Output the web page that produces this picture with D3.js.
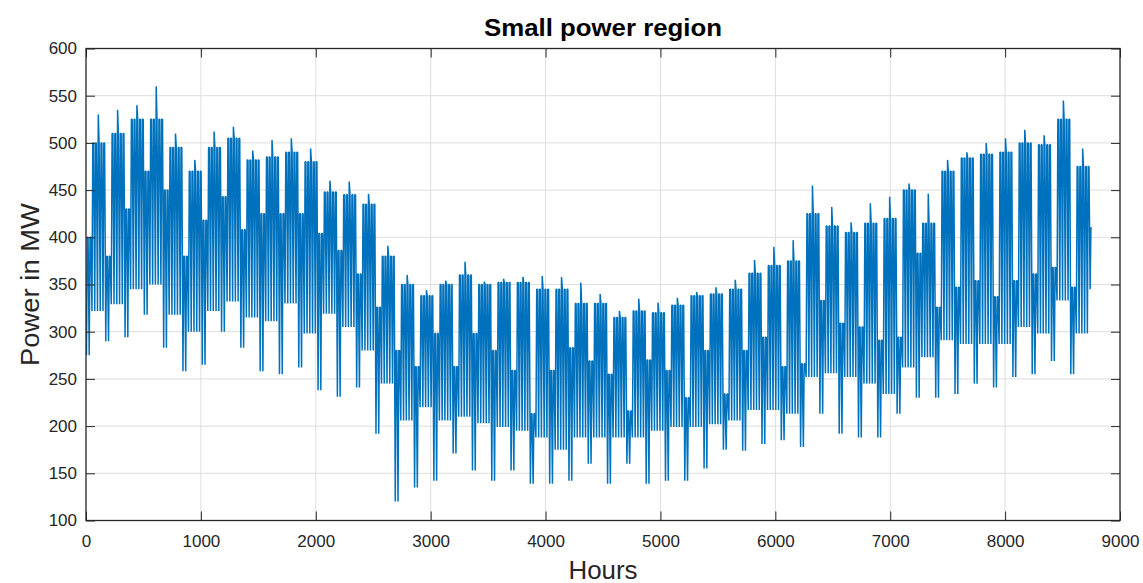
<!DOCTYPE html>
<html><head><meta charset="utf-8">
<script src="https://cdn.jsdelivr.net/npm/d3@7"></script>
<style>
body{margin:0;background:#fff}
text{font-family:"Liberation Sans",Arial,Helvetica,sans-serif}
</style>
</head><body><svg id="c" width="1143" height="583"></svg>
<script>
const title = "Small power region";
const xLabel = "Hours";
const yLabel = "Power in MW";
const xTicks = [0,1000,2000,3000,4000,5000,6000,7000,8000,9000];
const yTicks = [100,150,200,250,300,350,400,450,500,550,600];
const hoursInYear = 8760;

// Weekly envelope (MW). Week k: weekend days 7k,7k+1, weekdays 7k+2..7k+6
const weekdayHigh = [500,510,525,525,495,470,495,505,482,485,
  490,480,448,445,435,380,350,338,350,360,
  350,352,352,345,345,330,330,315,322,320,
  328,338,340,345,362,370,375,425,412,405,
  415,420,450,415,470,484,488,490,500,498,
  525,475];
const weekdayPeak = [530,535,540,560,510,482,512,517,492,503,
  505,494,460,459,446,391,360,344,354,374,
  353,356,358,359,358,352,340,322,335,331,
  336,342,347,355,376,390,397,455,432,416,
  436,443,457,446,482,490,500,505,514,508,
  545,494];
const weekdayLow = [322,329,345,350,318,300,322,332,315,311,
  330,298,319,305,280,245,206,220,206,210,
  203,199,195,188,175,188,188,188,188,195,
  199,199,202,206,217,217,213,252,256,252,
  245,234,262,273,291,287,287,287,305,298,
  333,298];
const weekendHigh = [400,380,430,470,450,380,418,443,408,425,
  425,425,404,386,361,326,280,263,298,263,
  298,280,259,213,259,283,269,255,216,270,
  259,230,280,234,280,294,263,266,333,309,
  305,291,294,383,326,347,354,337,354,361,
  368,347,410];
const weekendLow = [275,290,294,318,283,258,265,300,283,258,
  255,262,238,231,241,192,120,135,142,171,
  153,142,153,139,139,142,160,139,160,139,
  142,142,155,175,174,181,185,178,213,192,
  188,188,213,230,230,234,245,241,252,255,
  269,255,345];

// Build the day-by-day series (night trough, midday and evening level) from the weekly arrays
const series = [];
for (let d = 0; d * 24 < hoursInYear; d++) {
  const k = Math.floor(d / 7), r = d % 7;
  let lo, hi, ev;
  if (r < 2) { lo = weekendLow[k]; hi = weekendHigh[k]; ev = weekendHigh[k]; }
  else {
    lo = weekdayLow[k];
    hi = (r === 4) ? weekdayPeak[k] : weekdayHigh[k];
    ev = weekdayHigh[k];
  }
  series.push({h: d * 24 + 4, v: lo});
  series.push({h: d * 24 + 11, v: hi});
  series.push({h: d * 24 + 18, v: ev});
}

const W = 1143, H = 583;
const m = {left: 86, right: 1120, top: 48.5, bottom: 520.5};
const svg = d3.select("#c");
const x = d3.scaleLinear().domain([0, 9000]).range([m.left, m.right]);
const y = d3.scaleLinear().domain([100, 600]).range([m.bottom, m.top]);
const axisColor = "#262626";

svg.append("rect").attr("width", W).attr("height", H).attr("fill", "#fff");

// grid
const grid = svg.append("g").attr("stroke", "#dedede").attr("stroke-width", 1);
grid.selectAll(".gx").data(xTicks.slice(1, -1)).join("line")
  .attr("x1", d => x(d)).attr("x2", d => x(d)).attr("y1", m.top).attr("y2", m.bottom);
grid.selectAll(".gy").data(yTicks.slice(1, -1)).join("line")
  .attr("x1", m.left).attr("x2", m.right).attr("y1", d => y(d)).attr("y2", d => y(d));

// data line
svg.append("clipPath").attr("id", "clip").append("rect")
  .attr("x", m.left).attr("y", m.top).attr("width", m.right - m.left).attr("height", m.bottom - m.top);
svg.append("path").datum(series)
  .attr("clip-path", "url(#clip)")
  .attr("fill", "none").attr("stroke", "#0072BD").attr("stroke-width", 1.5)
  .attr("stroke-linejoin", "miter").attr("stroke-miterlimit", 1)
  .attr("d", d3.line().x(d => x(d.h)).y(d => y(d.v)));

// axes
const fmt = d3.format("d");
function styleAxis(g) {
  g.select(".domain").remove();
  g.selectAll("line").attr("stroke", axisColor).attr("stroke-width", 1);
  g.selectAll("text").attr("fill", axisColor).style("font-size", "17px");
}
svg.append("g").attr("transform", `translate(0,${m.bottom})`)
  .call(d3.axisBottom(x).tickValues(xTicks).tickFormat(fmt).tickSizeInner(-9).tickSizeOuter(0).tickPadding(14))
  .call(styleAxis);
svg.append("g").attr("transform", `translate(${m.left},0)`)
  .call(d3.axisLeft(y).tickValues(yTicks).tickFormat(fmt).tickSizeInner(-9).tickSizeOuter(0).tickPadding(9))
  .call(styleAxis);
svg.append("g").attr("transform", `translate(0,${m.top})`)
  .call(d3.axisTop(x).tickValues(xTicks).tickSizeInner(-9).tickSizeOuter(0).tickFormat(""))
  .call(styleAxis);
svg.append("g").attr("transform", `translate(${m.right},0)`)
  .call(d3.axisRight(y).tickValues(yTicks).tickSizeInner(-9).tickSizeOuter(0).tickFormat(""))
  .call(styleAxis);

svg.append("rect").attr("x", m.left).attr("y", m.top)
  .attr("width", m.right - m.left).attr("height", m.bottom - m.top)
  .attr("fill", "none").attr("stroke", axisColor).attr("stroke-width", 1.3);

// labels
svg.append("text").attr("x", (m.left + m.right) / 2).attr("y", 36)
  .attr("text-anchor", "middle").attr("fill", "#000")
  .attr("textLength", 238).attr("lengthAdjust", "spacingAndGlyphs")
  .style("font-size", "24px").style("font-weight", "bold").text(title);
svg.append("text").attr("x", (m.left + m.right) / 2).attr("y", 579)
  .attr("text-anchor", "middle").attr("fill", axisColor)
  .attr("textLength", 69).attr("lengthAdjust", "spacingAndGlyphs")
  .style("font-size", "25px").text(xLabel);
svg.append("text").attr("transform", `translate(39,${(m.top + m.bottom) / 2}) rotate(-90)`)
  .attr("text-anchor", "middle").attr("fill", axisColor)
  .attr("textLength", 163).attr("lengthAdjust", "spacingAndGlyphs")
  .style("font-size", "26px").text(yLabel);
</script>
</body></html>
